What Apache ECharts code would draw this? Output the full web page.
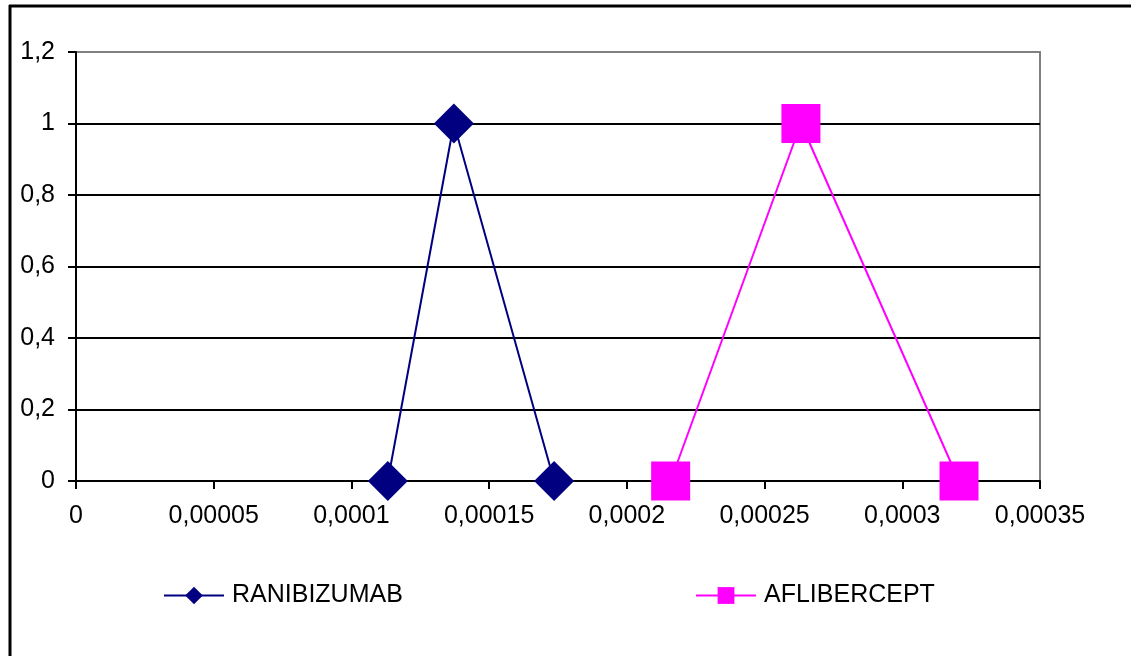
<!DOCTYPE html>
<html><head><meta charset="utf-8">
<script src="https://cdn.jsdelivr.net/npm/echarts@6/dist/echarts.min.js"></script>
<style>html,body{margin:0;padding:0;background:#fff;}#c{width:1131px;height:656px;}</style>
</head><body><div id="c"></div>
<script>
const seriesNames = ['RANIBIZUMAB', 'AFLIBERCEPT'];
const ranibizumabX = [0.0001132, 0.0001372, 0.0001736];
const ranibizumabY = [0, 1, 0];
const afliberceptX = [0.0002159, 0.0002632, 0.0003206];
const afliberceptY = [0, 1, 0];
const xTickLabels = ['0', '0,00005', '0,0001', '0,00015', '0,0002', '0,00025', '0,0003', '0,00035'];
const yTickLabels = ['0', '0,2', '0,4', '0,6', '0,8', '1', '1,2'];
const xStep = 0.00005, yStep = 0.2;

const font = 'Liberation Sans, Arial, sans-serif';
const fs = 25;
const chart = echarts.init(document.getElementById('c'));
chart.setOption({
  animation: false,
  grid: { left: 76, right: 91, top: 52, bottom: 175, show: true, borderColor: '#808080', borderWidth: 2, containLabel: false },
  xAxis: {
    type: 'value', min: 0, max: 0.00035, interval: xStep,
    axisLine: { show: true, onZero: false, lineStyle: { color: '#000', width: 2 } },
    axisTick: { show: true, length: 8, lineStyle: { color: '#000', width: 2 } },
    splitLine: { show: false },
    axisLabel: { color: '#000', fontFamily: font, fontSize: fs, margin: 23,
      formatter: v => xTickLabels[Math.round(v / xStep)] }
  },
  yAxis: {
    type: 'value', min: 0, max: 1.2, interval: yStep,
    axisLine: { show: true, lineStyle: { color: '#000', width: 2 } },
    axisTick: { show: true, length: 8, lineStyle: { color: '#000', width: 2 } },
    splitLine: { show: true, lineStyle: { color: ['#000','#000','#000','#000','#000','#000','#808080'], width: 2 } },
    axisLabel: { color: '#000', fontFamily: font, fontSize: fs, margin: 21,
      formatter: v => yTickLabels[Math.round(v / yStep)] }
  },
  legend: [
    { data: [seriesNames[0]], left: 158, top: 578, itemWidth: 60, itemHeight: 22, itemGap: 0,
      textStyle: { color: '#000', fontFamily: font, fontSize: fs, padding: [0,0,0,3] } },
    { data: [seriesNames[1]], left: 690, top: 578, itemWidth: 60, itemHeight: 21, itemGap: 0,
      textStyle: { color: '#000', fontFamily: font, fontSize: fs, padding: [0,0,0,3] } }
  ],
  series: [
    { name: seriesNames[0], type: 'line', data: ranibizumabX.map((x, i) => [x, ranibizumabY[i]]),
      symbol: 'diamond', symbolSize: 40, color: '#000080',
      lineStyle: { color: '#000080', width: 2 }, itemStyle: { color: '#000080' } },
    { name: seriesNames[1], type: 'line', data: afliberceptX.map((x, i) => [x, afliberceptY[i]]),
      symbol: 'rect', symbolSize: 39, color: '#FF00FF',
      lineStyle: { color: '#FF00FF', width: 2 }, itemStyle: { color: '#FF00FF' } }
  ],
  graphic: [
    { type: 'line', shape: { x1: 9, y1: 6, x2: 1131, y2: 6 }, style: { stroke: '#000', lineWidth: 3 } },
    { type: 'line', shape: { x1: 10, y1: 5, x2: 10, y2: 656 }, style: { stroke: '#000', lineWidth: 3 } }
  ]
});
</script></body></html>
